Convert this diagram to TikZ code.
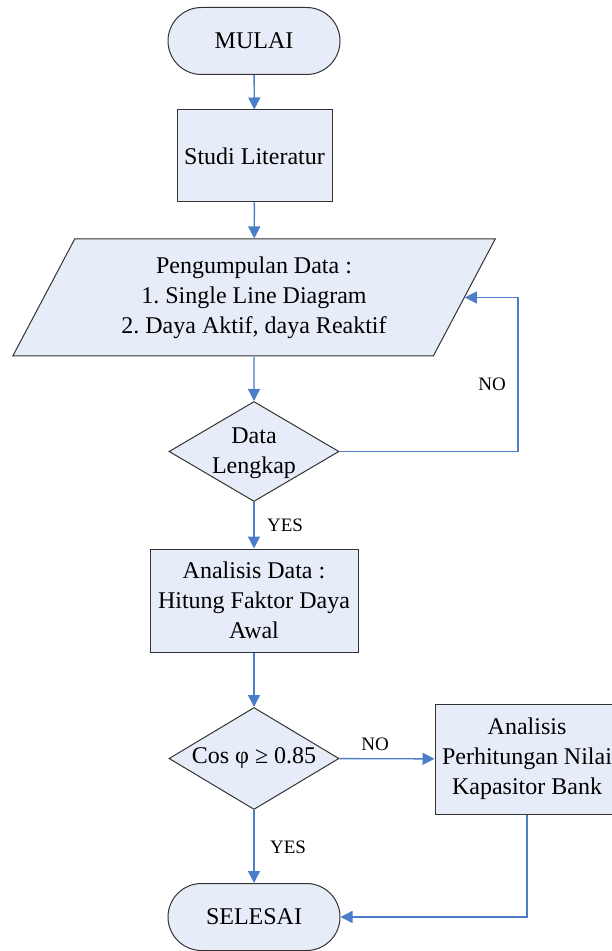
\documentclass[tikz,border=0pt,12pt]{standalone}
\usepackage{fontspec}
\setmainfont{Liberation Serif}
\usetikzlibrary{shapes.geometric,arrows.meta}
\frenchspacing
\definecolor{isian}{HTML}{E7EDF8}
\definecolor{tepi}{HTML}{333333}
\definecolor{panah}{HTML}{4A7EC9}
\tikzset{
  terminal/.style={draw=tepi,fill=isian,line width=0.5pt,rectangle,rounded corners=16.75pt,
    minimum width=86pt,minimum height=33.5pt},
  proses/.style={draw=tepi,fill=isian,line width=0.5pt,rectangle,align=center,
    inner sep=2pt},
  dataio/.style={draw=tepi,fill=isian,line width=0.5pt,trapezium,trapezium left angle=63.6,
    trapezium right angle=116.4,trapezium stretches=true,align=center,
    minimum width=241.5pt,minimum height=58.5pt},
  keputusan/.style={draw=tepi,fill=isian,line width=0.5pt,diamond,aspect=1.7,inner sep=0pt,
    align=center,minimum width=85pt,minimum height=50pt},
  garis/.style={draw=panah,line width=0.7pt,-{Triangle[width=6pt,length=6pt]}},
  label/.style={font=\fontsize{9.5}{11}\selectfont,inner sep=0pt}
}
\begin{document}
\begin{tikzpicture}[x=0.5pt,y=-0.5pt,font=\fontsize{12}{15}\selectfont]
		\useasboundingbox (0,0) rectangle (611,951);
		% blocks
		\node[terminal] (mulai) at (254,41) {MULAI};
		\node[proses,minimum width=77.5pt,minimum height=46pt] (studi) at (254.5,156) {Studi Literatur};
		\node[dataio] (data) at (254,297.5) {Pengumpulan Data :\\ 1. Single Line Diagram\\ 2. Daya Aktif, daya Reaktif};
		\node[keputusan] (lengkap) at (254,451.5) {\raisebox{-3.5pt}[0pt][0pt]{\begin{tabular}{@{}c@{}}Data\\ Lengkap\end{tabular}}};
		\node[proses,minimum width=104pt,minimum height=51.5pt] (analisis) at (254,600.5) {Analisis Data :\\ Hitung Faktor Daya\\ Awal};
		\node[keputusan,minimum height=51pt] (cosphi) at (254,758.5) {Cos φ ≥ 0.85};
		\node[proses,minimum width=92pt,minimum height=55pt] (kapasitor) at (527,759) {Analisis\\ Perhitungan Nilai\\ Kapasitor Bank};
		\node[terminal] (selesai) at (254,917) {SELESAI};
		\coordinate (balik) at (518,451.5);
		% arrows
		\draw[garis] (mulai) -- (studi);
		\draw[garis] (studi) -- (data);
		\draw[garis] (data) -- (lengkap);
		\draw[garis] (lengkap.east) -- (balik) |- (data.east);
		\draw[garis] (lengkap) -- (analisis);
		\draw[garis] (analisis) -- (cosphi);
		\draw[garis] (cosphi) -- (kapasitor);
		\draw[garis] (cosphi) -- (selesai);
		\draw[garis] (kapasitor.south) |- (selesai.east);
		% labels
		\node[label] (no1) at (492,384) {NO};
		\node[label] (yes1) at (285,525) {YES};
		\node[label] (no2) at (375,744) {NO};
		\node[label] (yes2) at (288,847) {YES};
	\end{tikzpicture}
\end{document}
